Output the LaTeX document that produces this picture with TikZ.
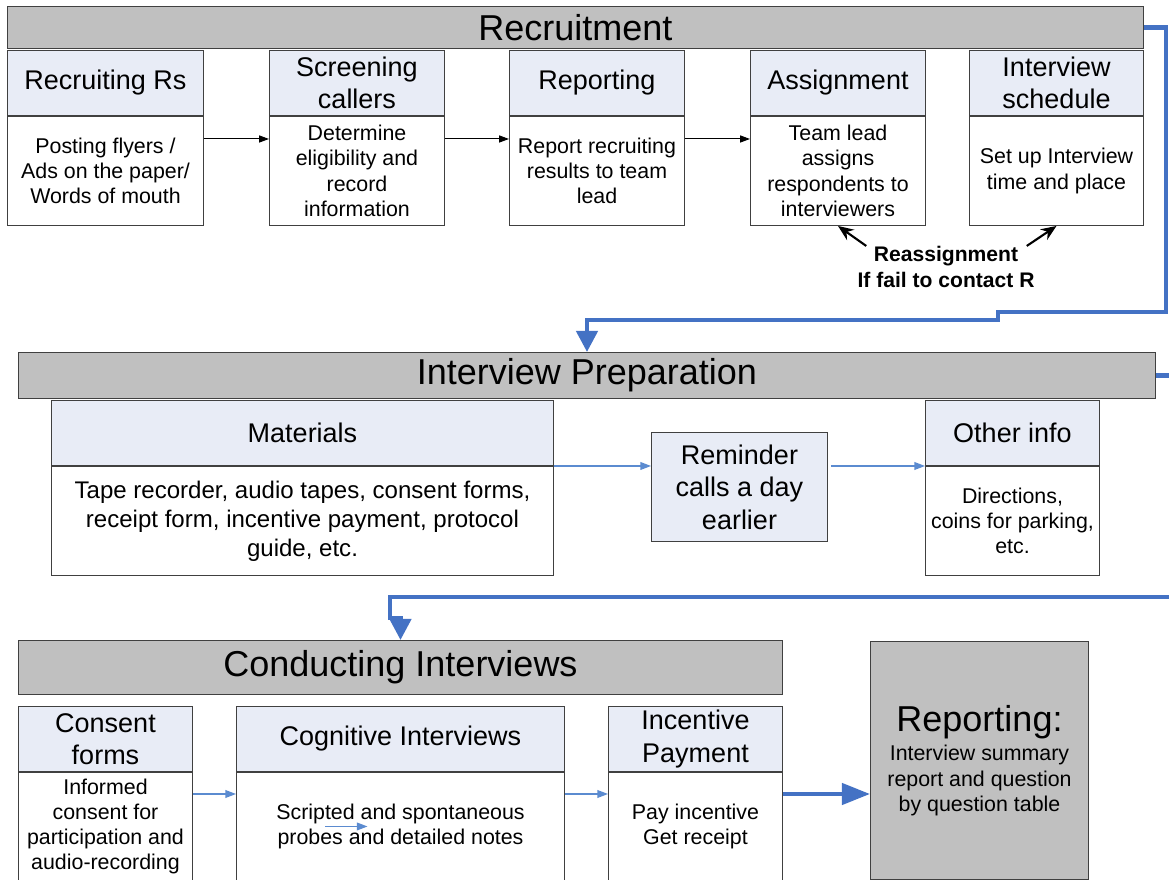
\documentclass[tikz,border=0pt]{standalone}
\usepackage{fontspec}
\setmainfont{Liberation Sans}
\usetikzlibrary{arrows.meta, positioning, calc}

\definecolor{barfill}{RGB}{192,192,192}
\definecolor{headfill}{RGB}{232,236,246}
\definecolor{edge}{RGB}{64,64,64}
\definecolor{flowblue}{RGB}{68,114,196}
\definecolor{linkblue}{RGB}{91,139,208}

\newcommand\pxs{0.025cm}
\newcommand\titlesize{\fontsize{25.6}{30}\selectfont}
\newcommand\headsize{\fontsize{19.2}{23}\selectfont}
\newcommand\bodysize{\fontsize{15.2}{18}\selectfont}
\newcommand\matsize{\fontsize{17.1}{20.6}\selectfont}
\newcommand\notesize{\fontsize{15}{18.5}\selectfont\bfseries}

\begin{document}
\begin{tikzpicture}[x=0.025cm, y=-0.025cm,
  box/.style={draw=edge, line width=0.7pt, anchor=north west, align=center, inner sep=0pt},
  bar/.style={box, fill=barfill, font=\titlesize},
  head/.style={box, fill=headfill, font=\headsize},
  body/.style={box, fill=white, font=\bodysize},
  sz/.style 2 args={minimum width=#1*\pxs, minimum height=#2*\pxs},
  flow/.style={draw=flowblue, line width=3.1pt, -{Triangle[length=15pt, width=15pt]}},
  link/.style={draw=linkblue, line width=0.8pt, -{Triangle[length=7.5pt, width=5.5pt]}},
  step arrow/.style={draw=black, line width=0.7pt, -{Triangle[length=7pt, width=5pt]}},
  back arrow/.style={draw=black, line width=1.5pt, -{Stealth[length=11pt, width=9pt]}}]
  \useasboundingbox (0,0) rectangle (1169,880);

  % Recruitment
  \node[bar, sz={1136}{42}] (rec) at (7,6) {Recruitment};
  \node[head, sz={196}{65}] (recrh) at (7,50) {Recruiting Rs};
  \node[body, sz={196}{109}] (recrb) at (recrh.south west) {Posting flyers /\\Ads on the paper/\\Words of mouth};
  \node[head, sz={175}{65}] (scrh) at (269,50) {Screening\\callers};
  \node[body, sz={175}{109}] (scrb) at (scrh.south west) {Determine\\eligibility and\\record\\information};
  \node[head, sz={175}{65}] (reph) at (509,50) {Reporting};
  \node[body, sz={175}{109}] (repb) at (reph.south west) {Report recruiting\\results to team\\lead};
  \node[head, sz={175}{65}] (asgh) at (750,50) {Assignment};
  \node[body, sz={175}{109}] (asgb) at (asgh.south west) {Team lead\\assigns\\respondents to\\interviewers};
  \node[head, sz={174}{65}] (schh) at (969,50) {Interview\\schedule};
  \node[body, sz={174}{109}] (schb) at (schh.south west) {Set up Interview\\time and place};
  \node[font=\notesize, align=center, inner sep=0pt] (reas) at (946,267) {Reassignment\\If fail to contact R};

  \draw[step arrow] ([yshift=-23*\pxs]recrb.north east) -- ([yshift=-23*\pxs]scrb.north west);
  \draw[step arrow] ([yshift=-23*\pxs]scrb.north east) -- ([yshift=-23*\pxs]repb.north west);
  \draw[step arrow] ([yshift=-23*\pxs]repb.north east) -- ([yshift=-23*\pxs]asgb.north west);
  \draw[back arrow] ([xshift=9*\pxs]reas.north west) -- (asgb.south);
  \draw[back arrow] ([xshift=-8*\pxs]reas.north east) -- (schb.south);

  % Interview preparation
  \node[bar, sz={1137}{46}] (prep) at (18,352) {Interview Preparation};
  \node[head, sz={502}{65}] (math) at (51,400) {Materials};
  \node[body, sz={502}{109}, font=\matsize] (matb) at (math.south west) {Tape recorder, audio tapes, consent forms,\\receipt form, incentive payment, protocol\\guide, etc.};
  \node[head, sz={176}{109}, text depth=0pt] (rem) at (651,432) {Reminder\\calls a day\\earlier};
  \node[head, sz={174}{65}] (othh) at (925,400) {Other info};
  \node[body, sz={174}{109}] (othb) at (othh.south west) {Directions,\\coins for parking,\\etc.};

  \draw[link] (matb.north east) -- (matb.north east -| rem.west);
  \draw[link] ([xshift=3*\pxs]rem.east |- othb.north west) -- (othb.north west);

  % Conducting interviews
  \node[bar, sz={764}{54}] (conduct) at (18,640) {Conducting Interviews};
  \node[head, sz={174}{65}] (conh) at (18,706) {Consent\\forms};
  \node[body, sz={174}{108}] (conb) at (conh.south west) {Informed\\consent for\\participation and\\audio-recording};
  \node[head, sz={328}{65}] (cogh) at (236,706) {Cognitive Interviews};
  \node[body, sz={328}{108}] (cogb) at (cogh.south west) {Scripted and spontaneous\\probes and detailed notes};
  \node[head, sz={174}{65}] (inch) at (608,706) {Incentive\\Payment};
  \node[body, sz={174}{108}] (incb) at (inch.south west) {Pay incentive\\Get receipt};
  \node[box, fill=barfill, sz={218}{238}, font=\bodysize] (repo) at (870,641)
    {{\titlesize Reporting:}\\[3pt]Interview summary\\report and question\\by question table};

  \draw[link] ([yshift=-22*\pxs]conb.north east) -- ([yshift=-22*\pxs]cogb.north west);
  \draw[link] ([yshift=-22*\pxs]cogb.north east) -- ([yshift=-22*\pxs]incb.north west);
  \draw[link] ([xshift=-75*\pxs]cogb.center) -- ([xshift=-33*\pxs]cogb.center);
  \draw[flow, -{Triangle[length=20pt, width=15pt]}] ([yshift=-22*\pxs]incb.north east) -- ([yshift=-22*\pxs]incb.north east -| repo.west);

  % main flow
  \draw[flow] (rec.east) -- ++(22,0) |- (998,312) -- (998,320) -| (prep.north);
  \draw[flow] (prep.east) -- ++(40,0) |- (390,597) -- (390,618) -| (conduct.north);
\end{tikzpicture}
\end{document}
